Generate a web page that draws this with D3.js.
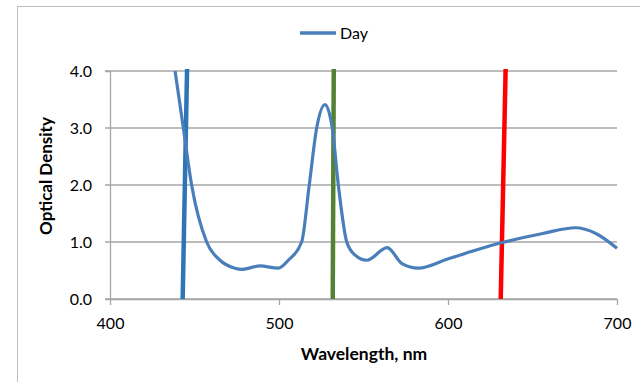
<!DOCTYPE html>
<html>
<head>
<meta charset="utf-8">
<script src="https://cdn.jsdelivr.net/npm/d3@7"></script>
<style>
  body { margin: 0; background: #fff; }
  svg { font-family: Lato, "Open Sans", sans-serif; }
</style>
</head>
<body>
<script>
// Day absorbance curve
const dayWavelengths = [438.5, 443.4, 448.3, 457.2, 465.1, 474, 478, 488.8, 499.6, 505.5, 513.4, 517.9, 522.3, 527.2, 531.5, 535.1, 540.1, 545, 551.9, 564, 572.8, 582.4, 600.6, 632, 656.1, 675.4, 687.5, 700];
const dayDensity    = [4.0,   3.0,   2.0,   1.0,   0.68,  0.54, 0.52, 0.58, 0.54,  0.68,  1.0,   2.0,   3.0,   3.41,  3.0,   2.0,   1.0,   0.77, 0.68, 0.90, 0.62,  0.54,  0.71,  0.99, 1.15,  1.25,  1.15,  0.89];

// laser lines (bottom and top wavelength)
const laserNames  = ["blue", "green", "red"];
const laserBottom = [443.0, 531.8, 631.2];
const laserTop    = [445.6, 532.4, 634.1];
const laserColors = ["#2e75b6", "#548235", "#ff0000"];

const xTicks = [400, 500, 600, 700];
const yTicks = [0, 1, 2, 3, 4];

let margin = null, width = null, height = null;
let svg = null;
let x, y = null;

setupCanvasSize();
appendSvg("body");
setupScales();
appendAxes();
appendLasers();
appendDayLine();
appendLegend();

function setupCanvasSize() {
  margin = {top: 71, left: 110, bottom: 83, right: 23};
  width = 640 - margin.left - margin.right;
  height = 382 - margin.top - margin.bottom;
}

function appendSvg(domElement) {
  const root = d3.select(domElement).append("svg")
    .attr("width", 640)
    .attr("height", 382);
  root.append("rect")
    .attr("class", "frame")
    .attr("x", 17.5).attr("y", 6.5)
    .attr("width", 700).attr("height", 400)
    .attr("fill", "none")
    .attr("stroke", "#bfbfbf");
  svg = root.append("g")
    .attr("transform", `translate(${margin.left}, ${margin.top})`);
}

function setupScales() {
  x = d3.scaleLinear().domain([400, 700]).range([0, width]);
  y = d3.scaleLinear().domain([0, 4]).range([height, 0]);
}

function appendAxes() {
  // gridlines
  svg.append("g")
    .selectAll("line")
    .data(yTicks)
    .enter()
      .append("line")
        .attr("x1", -5).attr("x2", width)
        .attr("y1", d => y(d)).attr("y2", d => y(d))
        .attr("stroke", "#a6a6a6")
        .attr("stroke-width", 1.3);

  const yAxis = svg.append("g")
    .call(d3.axisLeft(y).tickValues(yTicks).tickFormat(d3.format(".1f")).tickSize(5));
  yAxis.select(".domain").attr("stroke", "#a6a6a6").attr("stroke-width", 1.3);
  yAxis.selectAll(".tick line").remove();
  yAxis.selectAll("text")
    .attr("x", -18)
    .attr("font-size", 16)
    .attr("font-family", "Lato, sans-serif")
    .attr("fill", "#000");

  const xAxis = svg.append("g")
    .attr("transform", `translate(0, ${height})`)
    .call(d3.axisBottom(x).tickValues(xTicks).tickSize(6).tickSizeOuter(0));
  xAxis.select(".domain").attr("stroke", "#a6a6a6").attr("stroke-width", 1.3);
  xAxis.selectAll(".tick line").attr("stroke", "#a6a6a6").attr("stroke-width", 1.3);
  xAxis.selectAll("text")
    .attr("y", 19)
    .attr("font-size", 16)
    .attr("font-family", "Lato, sans-serif")
    .attr("fill", "#000");

  svg.append("text")
    .attr("x", 254).attr("y", height + 61)
    .attr("text-anchor", "middle")
    .attr("font-size", 17.5)
    .attr("font-weight", "bold")
    .text("Wavelength, nm");

  svg.append("text")
    .attr("transform", `translate(-58, ${height / 2 - 9}) rotate(-90)`)
    .attr("text-anchor", "middle")
    .attr("font-size", 17)
    .attr("font-weight", "bold")
    .text("Optical Density");
}

function appendLasers() {
  svg.append("g")
    .selectAll("line")
    .data(laserNames)
    .enter()
      .append("line")
        .attr("x1", (d, i) => x(laserBottom[i]))
        .attr("x2", (d, i) => x(laserTop[i]))
        .attr("y1", y(0))
        .attr("y2", y(4) - 2)
        .attr("stroke", (d, i) => laserColors[i])
        .attr("stroke-width", 4.5);
}

function appendDayLine() {
  const pts = dayWavelengths.map((w, i) => [w, dayDensity[i]]);
  const line = d3.line()
    .x(d => x(d[0]))
    .y(d => y(d[1]))
    .curve(d3.curveMonotoneX);
  svg.append("path")
    .datum(pts)
    .attr("d", line)
    .attr("fill", "none")
    .attr("stroke", "#4a7ebb")
    .attr("stroke-width", 3.2);
}

function appendLegend() {
  const g = svg.append("g").attr("class", "legend");
  g.append("line")
    .attr("x1", 190).attr("x2", 226)
    .attr("y1", -38).attr("y2", -38)
    .attr("stroke", "#4a7ebb")
    .attr("stroke-width", 3.5);
  g.append("text")
    .attr("x", 230).attr("y", -32)
    .attr("font-size", 16)
    .text("Day");
}
</script>
</body>
</html>
